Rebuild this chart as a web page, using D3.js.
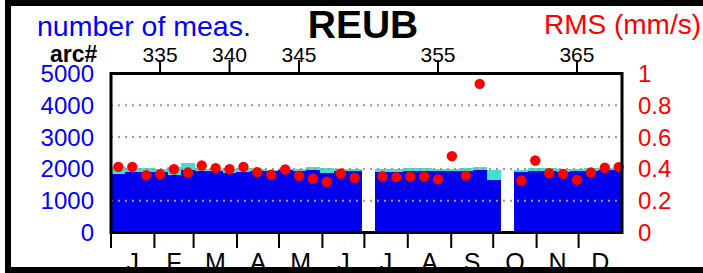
<!DOCTYPE html>
<html>
<head>
<meta charset="utf-8">
<script src="https://cdn.jsdelivr.net/npm/d3@7"></script>
<style>
  body { margin: 0; background: #fff; }
  svg { display: block; font-family: "Liberation Sans", Arial, sans-serif; }
</style>
</head>
<body>
<svg id="chart" width="703" height="273"></svg>
<script>
// arc numbers, one bar + one dot per arc (null = no data)
var arcs = [332, 333, 334, 335, 336, 337, 338, 339, 340, 341, 342, 343, 344, 345, 346, 347, 348, 349,
            350, 351, 352, 353, 354, 355, 356, 357, 358, 359, 360, 361, 362, 363, 364, 365, 366, 367, 368];
// number of measurements, all (cyan) and used (blue)
var measTotal = [2050, 2030, 2030, 2000, 2050, 2180, 2000, 2000, 2000, 2030, 2000, 1980, 2000, 2000, 2070, 2030, 2010, 2010,
                 null, 2000, 2000, 2020, 2020, 2000, 2000, 2020, 2060, 1970, null, 1970, 2030, 2020, 2010, 2010, 2020, 2030, 2030];
var measUsed = [1850, 1910, 1910, 1900, 1820, 1970, 1930, 1930, 1870, 1890, 1930, 1930, 1950, 1930, 1980, 1880, 1920, 1930,
                null, 1910, 1910, 1930, 1930, 1920, 1930, 1930, 1980, 1640, null, 1910, 1930, 1920, 1910, 1920, 1930, 1950, 1950];
// RMS of residuals (mm/s)
var rms = [0.413, 0.413, 0.36, 0.367, 0.398, 0.377, 0.421, 0.405, 0.398, 0.413, 0.38, 0.363, 0.396, 0.357, 0.338, 0.319, 0.371, 0.344,
           null, 0.354, 0.348, 0.352, 0.352, 0.335, 0.48, 0.358, 0.935, null, null, 0.327, 0.453, 0.373, 0.369, 0.331, 0.377, 0.407, 0.411];

var arcTicks = [335, 340, 345, 355, 365];
var countTicks = [0, 1000, 2000, 3000, 4000, 5000];
var rmsTicks = [0, 0.2, 0.4, 0.6, 0.8, 1];
var months = ["J", "F", "M", "A", "M", "J", "J", "A", "S", "O", "N", "D"];
var monthStart = [0, 31, 59, 90, 120, 151, 181, 212, 243, 273, 304, 334, 365];

// plot box (don't call these top/left, window.top is taken)
var pL = 111, pR = 622, pT = 73.5, pB = 232.5;

var svg = d3.select("#chart");

var x = d3.scaleLinear().domain([331.47, 368.24]).range([pL, pR]);
var xDay = d3.scaleLinear().domain([0, 365]).range([pL, pR]);
var yCount = d3.scaleLinear().domain([0, 5000]).range([pB, pT]);
var yRms = d3.scaleLinear().domain([0, 1]).range([pB, pT]);

svg.append("clipPath").attr("id", "plotclip")
  .append("rect").attr("x", pL).attr("y", pT).attr("width", pR - pL).attr("height", pB - pT);

var data = arcs.map(function(a, i) {
  return {arc: a, total: measTotal[i], used: measUsed[i], rms: rms[i]};
});

var plot = svg.append("g").attr("clip-path", "url(#plotclip)");

// bars (crisp so neighbouring bars don't leave seams)
function bars(cls, key, color) {
  plot.selectAll("." + cls).data(data.filter(function(d) { return d[key] != null; }))
    .enter().append("rect")
    .attr("class", cls)
    .attr("x", function(d) { return x(d.arc - 0.5); })
    .attr("width", function(d) { return x(d.arc + 0.5) - x(d.arc - 0.5) + 0.5; })
    .attr("y", function(d) { return yCount(d[key]); })
    .attr("height", function(d) { return pB - yCount(d[key]); })
    .attr("fill", color)
    .attr("shape-rendering", "crispEdges");
}
bars("tot", "total", "#40e0d0");
bars("used", "used", "#0000ee");

// dotted grid
plot.selectAll(".grid").data(countTicks.slice(1, 5))
  .enter().append("line")
  .attr("x1", pL).attr("x2", pR)
  .attr("y1", function(d) { return yCount(d); })
  .attr("y2", function(d) { return yCount(d); })
  .attr("stroke", "#bc8f8f")
  .attr("stroke-width", 2)
  .attr("stroke-dasharray", "2,5");

// rms dots
svg.selectAll(".dot").data(data.filter(function(d) { return d.rms != null; }))
  .enter().append("circle")
  .attr("cx", function(d) { return x(d.arc); })
  .attr("cy", function(d) { return yRms(d.rms); })
  .attr("r", 5.2)
  .attr("fill", "#ff0000");

// plot frame
svg.append("rect")
  .attr("x", pL).attr("y", pT)
  .attr("width", pR - pL).attr("height", pB - pT)
  .attr("fill", "none").attr("stroke", "#000").attr("stroke-width", 3);

// top arc axis
svg.selectAll(".atick").data(arcTicks).enter().append("line")
  .attr("x1", function(d) { return x(d); }).attr("x2", function(d) { return x(d); })
  .attr("y1", 60).attr("y2", pT)
  .attr("stroke", "#000").attr("stroke-width", 2);
svg.selectAll(".alab").data(arcTicks).enter().append("text")
  .attr("x", function(d) { return x(d); }).attr("y", 62)
  .attr("text-anchor", "middle").attr("font-size", 21)
  .text(function(d) { return d; });

// month axis
svg.selectAll(".mtick").data(monthStart.slice(0, 12)).enter().append("line")
  .attr("x1", function(d) { return xDay(d); }).attr("x2", function(d) { return xDay(d); })
  .attr("y1", pB).attr("y2", 248)
  .attr("stroke", "#000").attr("stroke-width", 2);
svg.selectAll(".mlab").data(months).enter().append("text")
  .attr("x", function(d, i) { return xDay((monthStart[i] + monthStart[i + 1]) / 2); })
  .attr("y", 271)
  .attr("text-anchor", "middle").attr("font-size", 25)
  .text(function(d) { return d; });

// left axis labels
svg.selectAll(".ylab").data(countTicks).enter().append("text")
  .attr("x", 94).attr("y", function(d) { return yCount(d) + 8.5; })
  .attr("text-anchor", "end").attr("font-size", 24).attr("fill", "#0000ff")
  .text(function(d) { return d; });

// right axis labels
svg.selectAll(".rlab").data(rmsTicks).enter().append("text")
  .attr("x", 638).attr("y", function(d) { return yRms(d) + 8.5; })
  .attr("font-size", 24).attr("fill", "#ff0000")
  .text(function(d) { return d; });

// titles
svg.append("text").attr("x", 37).attr("y", 36).attr("font-size", 28.5).attr("fill", "#0000ff")
  .text("number of meas.");
svg.append("text").attr("x", 363).attr("y", 38).attr("font-size", 39).attr("font-weight", "bold")
  .attr("text-anchor", "middle").text("REUB");
svg.append("text").attr("x", 701).attr("y", 34).attr("font-size", 28).attr("fill", "#ff0000")
  .attr("text-anchor", "end").text("RMS (mm/s)");
svg.append("text").attr("x", 50).attr("y", 62).attr("font-size", 23).attr("font-weight", "bold")
  .text("arc#");

// outer frame
svg.append("rect")
  .attr("x", 8).attr("y", 3).attr("width", 710).attr("height", 267)
  .attr("fill", "none").attr("stroke", "#000").attr("stroke-width", 6);
</script>
</body>
</html>
